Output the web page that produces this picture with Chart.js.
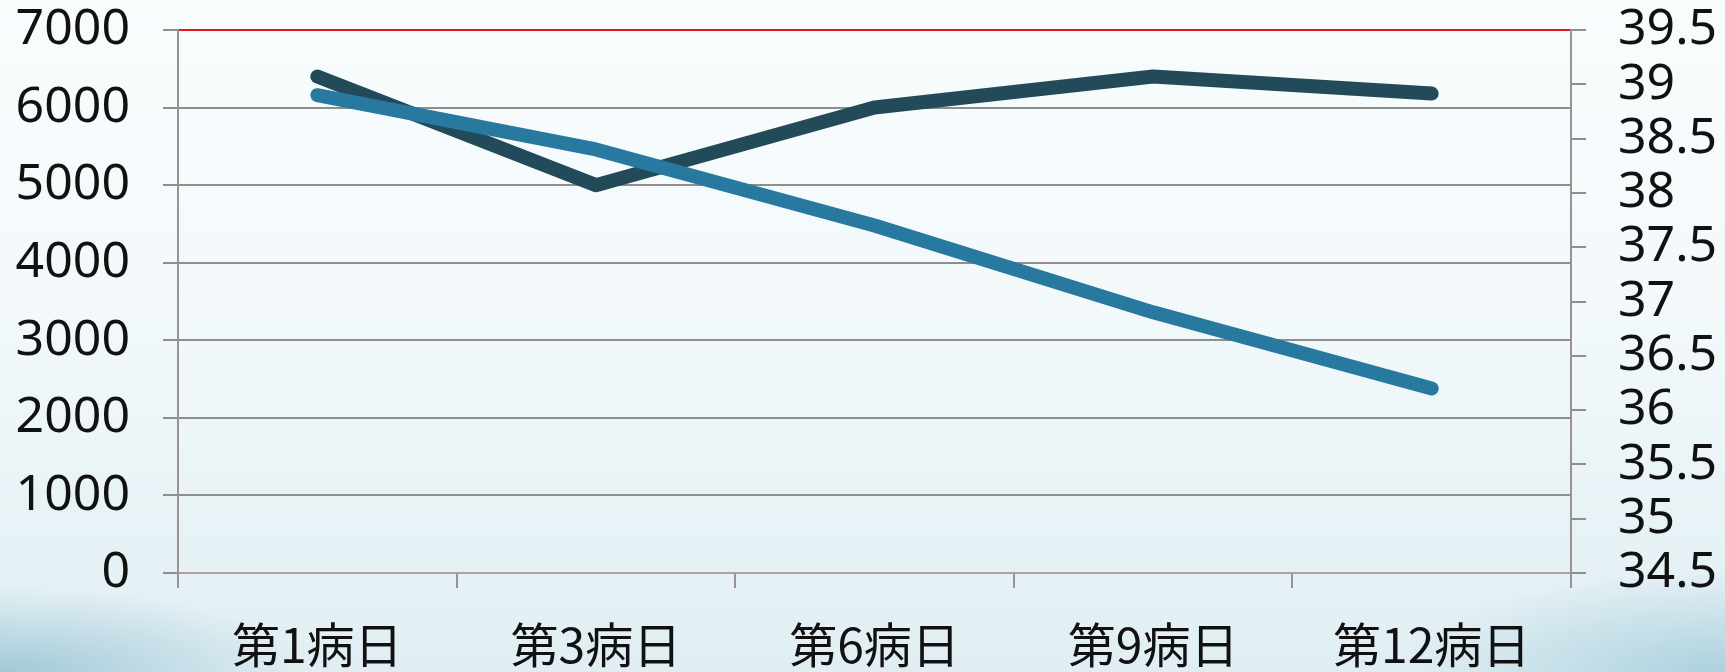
<!DOCTYPE html>
<html>
<head>
<meta charset="utf-8">
<script src="https://cdn.jsdelivr.net/npm/chart.js@4/dist/chart.umd.min.js"></script>
<style>
  html, body { margin: 0; padding: 0; }
  body {
    width: 1725px; height: 672px; overflow: hidden;
    background:
      radial-gradient(ellipse 360px 100px at 0% 100%, rgba(110,170,192,0.55), rgba(110,170,192,0) 85%),
      radial-gradient(ellipse 380px 120px at 100% 100%, rgba(120,180,200,0.5), rgba(120,180,200,0) 85%),
      linear-gradient(to bottom, #f8fcfd 0%, #f3f9fb 45%, #e0eef3 100%);
  }
  .canvas-container { position: relative; width: 1725px; height: 672px; }
  canvas { display: block; }
</style>
</head>
<body>
<div class="canvas-container"><canvas id="chart" width="1725" height="672"></canvas></div>
<script>
const labels = ["第1病日", "第3病日", "第6病日", "第9病日", "第12病日"];
const leftValues = [6400, 5000, 6000, 6400, 6180];
const rightValues = [38.9, 38.4, 37.7, 36.9, 36.2];
const leftTicks = [0, 1000, 2000, 3000, 4000, 5000, 6000, 7000];
const rightTicks = [34.5, 35, 35.5, 36, 36.5, 37, 37.5, 38, 38.5, 39, 39.5];

const gridGrey = "#8e8e8e";
const axisGrey = "#9a9192";

const ctx = document.getElementById("chart").getContext("2d");
new Chart(ctx, {
  type: "line",
  data: {
    labels: labels,
    datasets: [
      {
        data: rightValues,
        yAxisID: "yRight",
        borderColor: "#2779a0",
        borderWidth: 14,
        borderCapStyle: "round",
        borderJoinStyle: "round",
        pointRadius: 0,
        tension: 0,
      },
      {
        data: leftValues,
        yAxisID: "yLeft",
        borderColor: "#224a59",
        borderWidth: 14,
        borderCapStyle: "round",
        borderJoinStyle: "round",
        pointRadius: 0,
        tension: 0,
      },
    ],
  },
  options: {
    responsive: false,
    animation: false,
    layout: { padding: { top: 30, right: 0, left: 0, bottom: 0 } },
    plugins: { legend: { display: false }, tooltip: { enabled: false } },
    scales: {
      x: {
        offset: true,
        grid: {
          offset: true,
          drawOnChartArea: false,
          tickLength: 15,
          tickColor: axisGrey,
          lineWidth: 2,
        },
        border: { color: "#b39ea2", width: 2 },
        ticks: {
          padding: 28,
          color: "#111",
          maxRotation: 0,
          autoSkip: false,
          font: { family: "'Noto Sans CJK JP'", size: 48 },
        },
        afterFit: (s) => { s.height = 99; s.paddingLeft = 0; s.paddingRight = 0; },
      },
      yLeft: {
        position: "left",
        min: leftTicks[0],
        max: leftTicks[leftTicks.length - 1],
        afterBuildTicks: (s) => { s.ticks = leftTicks.map((v) => ({ value: v })); },
        grid: {
          color: (c) => (c.tick && c.tick.value === 7000 ? "#e8141b" : gridGrey),
          tickColor: gridGrey,
          tickLength: 15,
          lineWidth: 2,
        },
        border: { color: axisGrey, width: 2 },
        ticks: {
          padding: 33,
          color: "#111",
          autoSkip: false,
          font: { family: "'Noto Sans'", size: 50 },
          callback: (v) => String(v),
        },
        afterFit: (s) => { s.width = 178; s.paddingTop = 0; s.paddingBottom = 0; },
      },
      yRight: {
        position: "right",
        min: rightTicks[0],
        max: rightTicks[rightTicks.length - 1],
        afterBuildTicks: (s) => { s.ticks = rightTicks.map((v) => ({ value: v })); },
        grid: {
          drawOnChartArea: false,
          tickColor: gridGrey,
          tickLength: 15,
          lineWidth: 2,
        },
        border: { color: axisGrey, width: 2 },
        ticks: {
          padding: 32,
          color: "#111",
          autoSkip: false,
          font: { family: "'Noto Sans'", size: 50 },
          callback: (v) => String(v),
        },
        afterFit: (s) => { s.width = 154; s.paddingTop = 0; s.paddingBottom = 0; },
      },
    },
  },
});
</script>
</body>
</html>
